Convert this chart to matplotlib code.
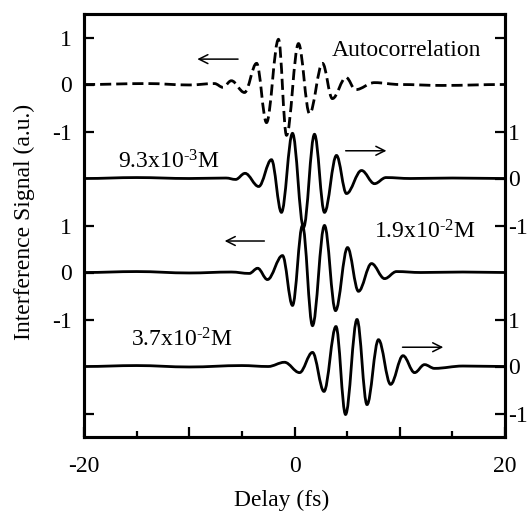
import numpy as np
import matplotlib
matplotlib.use("Agg")
import matplotlib.pyplot as plt
from matplotlib.path import Path
from matplotlib.patches import PathPatch

plt.rcParams['font.family'] = ['Liberation Serif', 'DejaVu Serif']
plt.rcParams['mathtext.default'] = 'regular'

# extrema (delay in fs, signal in a.u.)
auto_x = [-20, -14, -10, -7.6, -6.8, -6.0, -4.75, -3.6, -2.66, -1.52, -0.76, 0.38, 1.43, 2.66, 3.6, 4.9, 5.8, 7.6, 10, 14, 20]
auto_y = [0, 0.02, -0.01, 0.02, -0.06, 0.08, -0.17, 0.45, -0.81, 0.96, -1.08, 0.87, -0.62, 0.45, -0.3, 0.15, -0.11, 0.04, 0.0, -0.02, 0]

c1_x = [-20, -15, -10, -6.5, -5.6, -4.7, -3.4, -2.19, -1.24, -0.19, 0.86, 1.90, 2.85, 3.99, 4.94, 6.37, 7.6, 8.7, 11, 15, 20]
c1_y = [0, 0.02, 0, 0.01, -0.02, 0.11, -0.17, 0.40, -0.72, 0.96, -1.04, 0.94, -0.72, 0.49, -0.32, 0.17, -0.11, 0.02, 0, 0.01, 0]

c2_x = [-20, -15, -10, -6, -4.3, -3.5, -2.57, -1.14, -0.19, 0.76, 1.71, 2.85, 3.9, 5.04, 6.08, 7.32, 8.56, 9.7, 12, 16, 20]
c2_y = [0, 0.02, -0.01, 0.01, -0.02, 0.09, -0.15, 0.36, -0.70, 1.0, -1.13, 1.0, -0.81, 0.53, -0.40, 0.19, -0.13, 0.02, 0, 0.01, 0]

c3_x = [-20, -15, -10, -5, -2.5, -0.95, 0.48, 1.71, 2.8, 3.94, 4.85, 5.94, 6.89, 7.98, 9.13, 10.31, 11.41, 12.36, 13.3, 16, 20]
c3_y = [0, 0.02, -0.01, 0.02, 0, 0.09, -0.13, 0.30, -0.53, 0.85, -1.02, 1.0, -0.81, 0.57, -0.38, 0.23, -0.13, 0.04, -0.04, 0.01, 0]

labels = ['Autocorrelation', '9.3x10$^{\u20103}$M', '1.9x10$^{\u20102}$M', '3.7x10$^{\u20102}$M']

left_ticks = [0.5, 2.5, 3.5, 4.5, 6.5, 7.5, 8.5]
left_ticklabels = ['', '-1', '0', '1', '-1', '0', '1']
right_ticks = [0.5, 1.5, 2.5, 4.5, 5.5, 6.5, 8.5]
right_ticklabels = ['-1', '0', '1', '-1', '0', '1', '']


def wave_path(xs, ys, off):
    # smooth curve through the extrema (horizontal tangent at each one)
    verts = [(xs[0], ys[0] + off)]
    codes = [Path.MOVETO]
    for i in range(len(xs) - 1):
        d = (xs[i + 1] - xs[i]) * 0.363
        verts += [(xs[i] + d, ys[i] + off), (xs[i + 1] - d, ys[i + 1] + off), (xs[i + 1], ys[i + 1] + off)]
        codes += [Path.CURVE4] * 3
    return Path(verts, codes)


fig = plt.figure(figsize=(5.27, 5.18), dpi=100)
ax = fig.add_axes([84 / 527, 81 / 518, 421 / 527, 423 / 518])
ax.set_xlim(-20, 20)
ax.set_ylim(0, 9)

traces = [(auto_x, auto_y, 7.5, (0, (4, 1.8))),
          (c1_x, c1_y, 5.5, '-'),
          (c2_x, c2_y, 3.5, '-'),
          (c3_x, c3_y, 1.5, '-')]
for xs, ys, off, ls in traces:
    ax.add_patch(PathPatch(wave_path(xs, ys, off), fill=False, lw=2.0, ls=ls, edgecolor='k', capstyle='butt'))

# arrows showing which axis each trace uses
arr = dict(arrowstyle='->', lw=1.1, color='k', mutation_scale=16)
ax.annotate('', xy=(-9.5, 8.04), xytext=(-5.1, 8.04), arrowprops=arr)
ax.annotate('', xy=(9.0, 6.09), xytext=(4.6, 6.09), arrowprops=arr)
ax.annotate('', xy=(-6.9, 4.17), xytext=(-2.6, 4.17), arrowprops=arr)
ax.annotate('', xy=(14.4, 1.91), xytext=(10.0, 1.91), arrowprops=arr)

fs = 17
ax.text(3.5, 8.23, labels[0], fontsize=fs, va='center', ha='left')
ax.text(-16.8, 5.85, labels[1], fontsize=fs, va='center', ha='left')
ax.text(7.6, 4.36, labels[2], fontsize=fs, va='center', ha='left')
ax.text(-15.5, 2.06, labels[3], fontsize=fs, va='center', ha='left')

ax.set_xticks([-20, -10, 0, 10, 20])
ax.set_xticklabels(['-20', '', '0', '', '20'])
ax.set_xticks([-15, -5, 5, 15], minor=True)
ax.tick_params(axis='x', which='major', direction='in', length=7, width=1.6, pad=14, labelsize=fs)
ax.tick_params(axis='x', which='minor', direction='in', length=4, width=1.6)

ax.set_yticks(left_ticks)
ax.set_yticklabels(left_ticklabels)
ax.tick_params(axis='y', direction='in', length=7, width=1.6, pad=9, labelsize=fs)

ax2 = ax.twinx()
ax2.set_ylim(0, 9)
ax2.set_yticks(right_ticks)
ax2.set_yticklabels(right_ticklabels)
ax2.tick_params(axis='y', direction='in', length=7, width=1.6, pad=2, labelsize=fs)

for a in (ax, ax2):
    for s in a.spines.values():
        s.set_linewidth(2.2)

fig.text(282 / 527, 1 - 500 / 518, 'Delay (fs)', fontsize=fs, ha='center', va='center')
fig.text(24 / 527, 1 - 222 / 518, 'Interference Signal (a.u.)', fontsize=fs, ha='center', va='center', rotation=90)

fig.savefig('out.png', dpi=100)
